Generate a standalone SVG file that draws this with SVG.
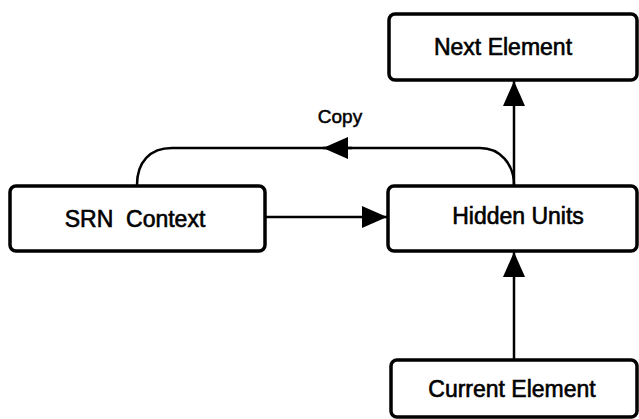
<svg xmlns="http://www.w3.org/2000/svg" width="639" height="419" viewBox="0 0 639 419">
  <defs>
    <style>
      .box { fill: #ffffff; stroke: #000000; stroke-width: 3.5; }
      .lbl { font-family: "Liberation Sans", Arial, sans-serif; font-size: 23px; fill: #000000; text-anchor: middle; stroke: #000; stroke-width: 0.6; }
      .wire { fill: none; stroke: #000000; stroke-width: 2.5; }
    </style>
    <marker id="head" markerUnits="userSpaceOnUse" markerWidth="26" markerHeight="24" viewBox="0 0 26 24" refX="25" refY="12" orient="auto">
      <path d="M0,1 L25,12 L0,23 Z" fill="#000000"/>
    </marker>
  </defs>
  <rect width="639" height="419" fill="#ffffff"/>

  <!-- connectors -->
  <g id="connectors">
    <!-- copy loop from hidden units back to the context layer -->
    <path class="wire" d="M514,185 C514,164 500,148 480,148 L172,148 C150,148 137,162 137,185"/>
    <path class="wire" d="M352,148 L323,148" marker-end="url(#head)"/>
    <!-- context to hidden units -->
    <path class="wire" d="M265,217 L387,217" marker-end="url(#head)"/>
    <!-- hidden units to next element -->
    <path class="wire" d="M514,185 L514,81" marker-end="url(#head)"/>
    <!-- current element to hidden units -->
    <path class="wire" d="M514,360 L514,252" marker-end="url(#head)"/>
  </g>

  <g id="next-element">
    <rect class="box" x="389" y="14" width="248" height="66" rx="6"/>
    <text class="lbl" x="503" y="55">Next Element</text>
  </g>

  <g id="copy-label">
    <text class="lbl" x="340" y="123" style="font-size:19px;stroke-width:0.5">Copy</text>
  </g>

  <g id="srn-context">
    <rect class="box" x="10" y="186" width="255" height="65" rx="6"/>
    <text class="lbl" x="135" y="227" xml:space="preserve">SRN  Context</text>
  </g>

  <g id="hidden-units">
    <rect class="box" x="388" y="186" width="249" height="65" rx="6"/>
    <text class="lbl" x="518" y="224">Hidden Units</text>
  </g>

  <g id="current-element">
    <rect class="box" x="391" y="360" width="246" height="57" rx="6"/>
    <text class="lbl" x="512" y="397">Current Element</text>
  </g>
</svg>
